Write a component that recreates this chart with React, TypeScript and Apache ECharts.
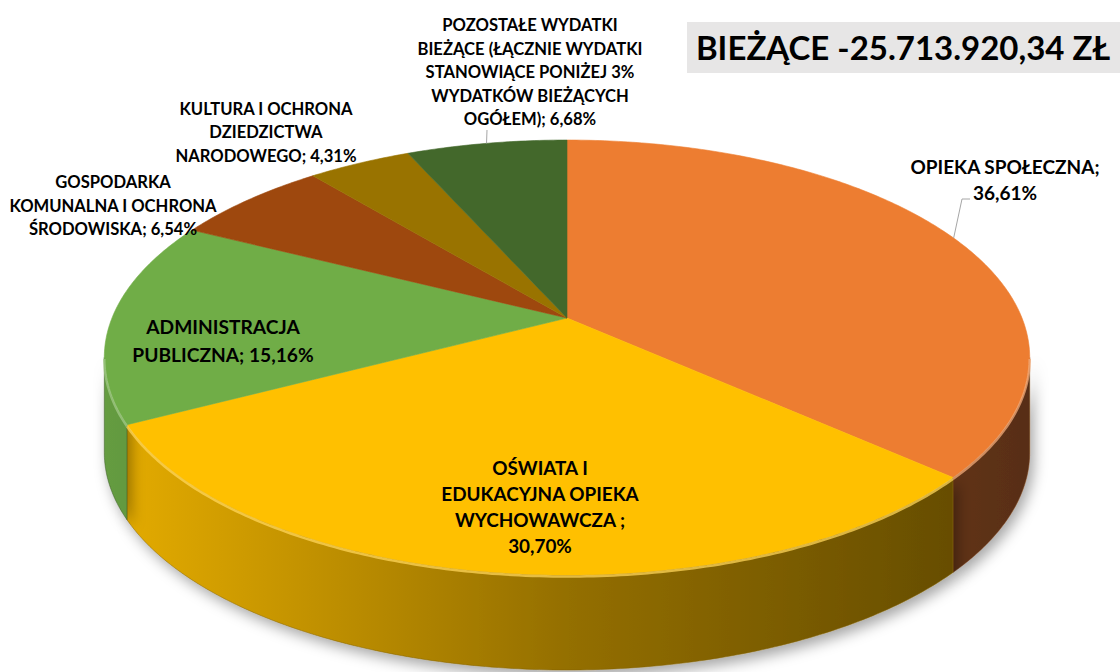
import React, { useEffect, useRef } from "react";
import * as echarts from "echarts";

// ---------- data ----------
const categories = [
  "OPIEKA SPOŁECZNA",
  "OŚWIATA I EDUKACYJNA OPIEKA WYCHOWAWCZA",
  "ADMINISTRACJA PUBLICZNA",
  "GOSPODARKA KOMUNALNA I OCHRONA ŚRODOWISKA",
  "KULTURA I OCHRONA DZIEDZICTWA NARODOWEGO",
  "POZOSTAŁE WYDATKI BIEŻĄCE",
];
const values = [36.61, 30.7, 15.16, 6.54, 4.31, 6.68];
const labelHeads = [
  "OPIEKA SPOŁECZNA;\n",
  "OŚWIATA I\nEDUKACYJNA OPIEKA\nWYCHOWAWCZA ;\n",
  "ADMINISTRACJA\nPUBLICZNA; ",
  "GOSPODARKA\nKOMUNALNA I OCHRONA\nŚRODOWISKA; ",
  "KULTURA I OCHRONA\nDZIEDZICTWA\nNARODOWEGO; ",
  "POZOSTAŁE WYDATKI\nBIEŻĄCE (ŁĄCZNIE WYDATKI\nSTANOWIĄCE PONIŻEJ 3%\nWYDATKÓW BIEŻĄCYCH\nOGÓŁEM); ",
];
const titleText = "BIEŻĄCE -25.713.920,34 ZŁ";

// ---------- styles / layout ----------
const colors = ["#ED7D31", "#FFC000", "#70AD47", "#9E480E", "#997300", "#43682B"];
const labelLayout = [
  { x: 1005, y: 166, size: 19, lh: 26.5 },
  { x: 540, y: 467, size: 18.9, lh: 26.3 },
  { x: 223, y: 326.5, size: 19.2, lh: 28 },
  { x: 113, y: 182, size: 16.6, lh: 23.5 },
  { x: 266, y: 108.5, size: 16.6, lh: 23.5 },
  { x: 530, y: 25, size: 16.6, lh: 23.5 },
];
const leaderElbows: (number[][] | null)[] = [
  [[970, 199], [962, 199]],
  null,
  null,
  null,
  null,
  [[487, 130]],
];

const CX = 567, CY = 318, RA = 455, RB = 210.3, KP = 0.1817, DEPTH = 95;
const FONT = "Lato, 'Open Sans', sans-serif";

function proj(t: number, dy = 0): number[] {
  const u = Math.sin(t);
  const v = -Math.cos(t);
  const s = 1 / (1 - KP * v);
  return [CX + RA * u * s, CY + RB * v * s + dy];
}
function arc(a0: number, a1: number, dy = 0): number[][] {
  const n = Math.max(2, Math.ceil(((a1 - a0) * 180) / Math.PI / 0.7));
  const pts: number[][] = [];
  for (let k = 0; k <= n; k++) pts.push(proj(a0 + ((a1 - a0) * k) / n, dy));
  return pts;
}
function shade(hex: string, f: number): string {
  const n = parseInt(hex.slice(1), 16);
  const c = [(n >> 16) & 255, (n >> 8) & 255, n & 255].map((x) =>
    Math.max(0, Math.min(255, Math.round(f >= 1 ? x + (255 - x) * (f - 1) : x * f)))
  );
  return `rgb(${c[0]},${c[1]},${c[2]})`;
}
function fmt(v: number): string {
  return v.toFixed(2).replace(".", ",") + "%";
}

export default function App() {
  const ref = useRef<HTMLDivElement>(null);
  useEffect(() => {
    if (!ref.current) return;
    const chart = echarts.init(ref.current, null, { renderer: "svg" });
    const total = values.reduce((a, b) => a + b, 0);
    const cum: number[] = [];
    let acc = 0;
    values.forEach((v) => {
      cum.push(acc);
      acc += v;
    });
    const vis0 = Math.acos(-KP);
    const vis1 = 2 * Math.PI - vis0;

    const renderItem = (params: any, api: any) => {
      const i = params.dataIndex;
      const v = api.value(0) as number;
      const a0 = (cum[i] / total) * 2 * Math.PI;
      const a1 = a0 + (v / total) * 2 * Math.PI;
      const base = colors[i];
      const children: any[] = [];
      const s0 = Math.max(a0, vis0);
      const s1 = Math.min(a1, vis1);
      if (s1 > s0) {
        const topArc = arc(s0, s1);
        const botArc = arc(s0, s1, DEPTH).reverse();
        children.push({
          type: "polygon",
          z2: 1,
          shape: { points: topArc.concat(botArc) },
          style: {
            fill: {
              type: "linear",
              x: 105,
              y: 0,
              x2: 1030,
              y2: 0,
              global: true,
              colorStops: [
                { offset: 0, color: shade(base, 0.9) },
                { offset: 0.5, color: shade(base, 0.58) },
                { offset: 1, color: shade(base, 0.37) },
              ],
            },
            stroke: shade(base, 0.5),
            lineWidth: 0.5,
            shadowBlur: 14,
            shadowOffsetX: 4,
            shadowOffsetY: 6,
            shadowColor: "rgba(0,0,0,0.35)",
          },
        });
        children.push({
          type: "polyline",
          z2: 12,
          shape: { points: arc(s0, s1, 1.5) },
          style: { stroke: shade(base, 1.35), lineWidth: 2.5, opacity: 0.75, fill: null },
        });
      }
      const top = [[CX, CY]].concat(arc(a0, a1));
      children.push({
        type: "polygon",
        z2: 10,
        shape: { points: top },
        style: { fill: base, stroke: base, lineWidth: 0.6 },
      });
      const L = labelLayout[i];
      children.push({
        type: "text",
        z2: 30,
        style: {
          text: labelHeads[i] + fmt(v),
          x: L.x,
          y: L.y - L.lh / 2,
          align: "center",
          verticalAlign: "top",
          lineHeight: L.lh,
          fontSize: L.size,
          fontWeight: "bold",
          fontFamily: FONT,
          fill: "#000",
        },
      });
      const el = leaderElbows[i];
      if (el) {
        const mid = proj((a0 + a1) / 2);
        children.push({
          type: "polyline",
          z2: 25,
          shape: { points: el.concat([mid]) },
          style: { stroke: "#A6A6A6", lineWidth: 1, fill: null },
        });
      }
      return { type: "group", children };
    };

    chart.setOption({
      animation: false,
      backgroundColor: "#fff",
      graphic: [
        {
          type: "rect",
          shape: { x: 687, y: 22, width: 433, height: 51 },
          style: { fill: "#E7E6E6" },
          z: 1,
        },
        {
          type: "text",
          x: 903,
          y: 47,
          z: 2,
          style: {
            text: titleText,
            align: "center",
            verticalAlign: "middle",
            fontSize: 33,
            fontWeight: "bold",
            fontFamily: FONT,
            fill: "#000",
          },
        },
      ],
      series: [
        {
          type: "custom",
          coordinateSystem: "none",
          renderItem,
          data: values.map((v, i) => ({ value: v, name: categories[i] })),
        },
      ],
    });
    return () => chart.dispose();
  }, []);
  return (
    <div
      ref={ref}
      style={{ position: "absolute", left: 0, top: 0, width: 1120, height: 672 }}
    />
  );
}
